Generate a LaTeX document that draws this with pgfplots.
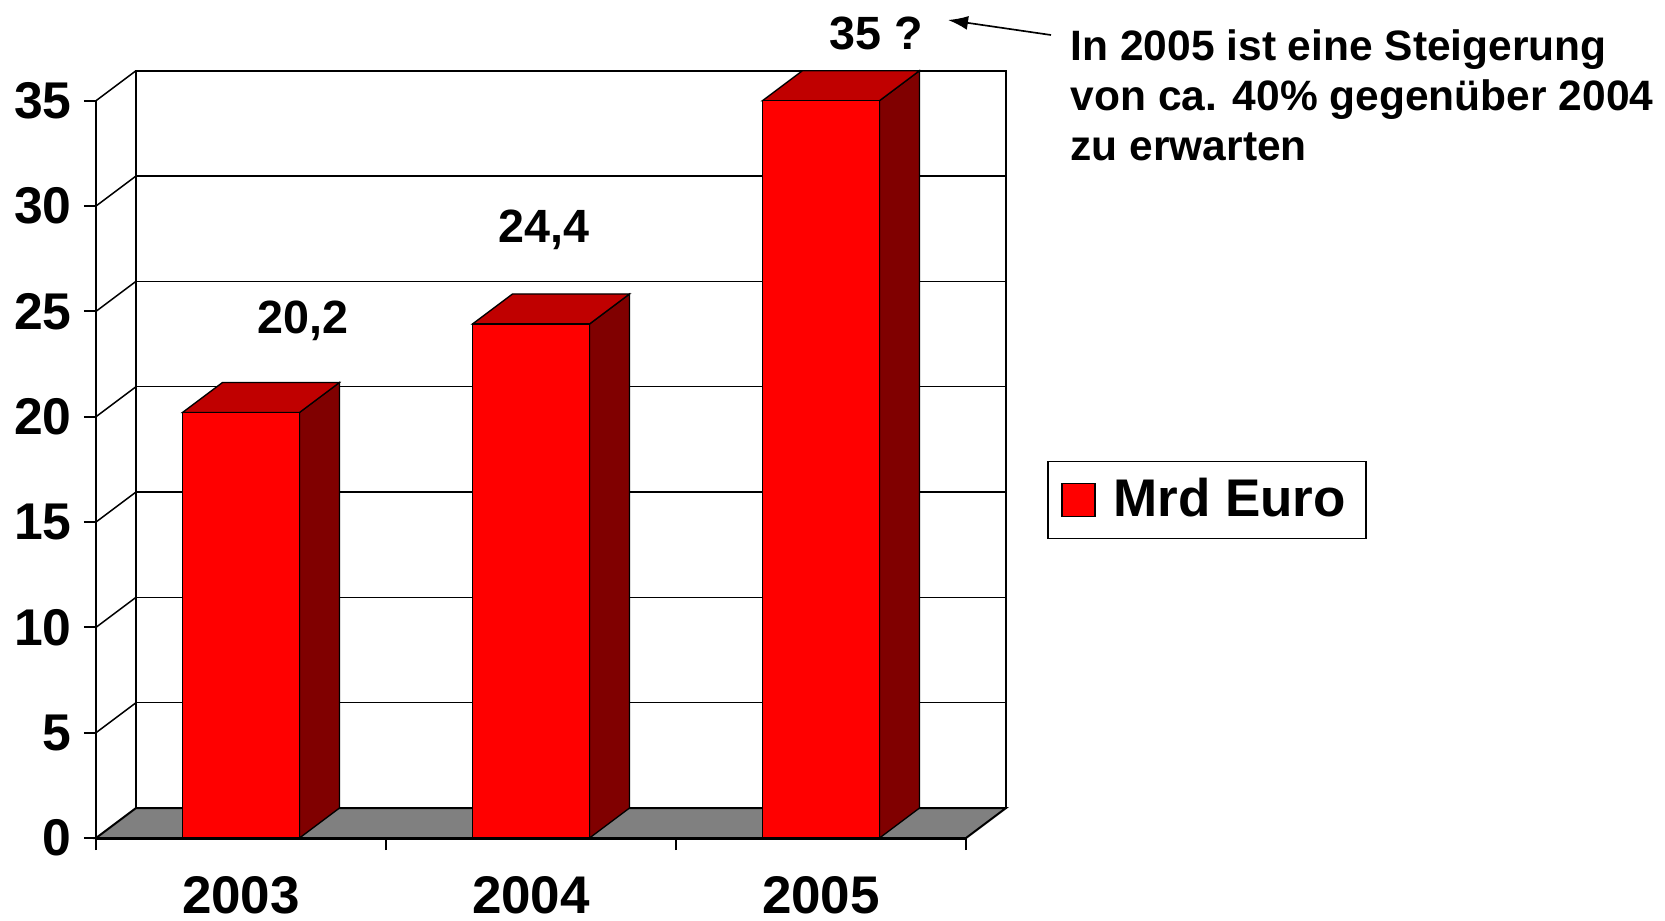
\documentclass[border=0pt]{standalone}
\usepackage{pgfplots}
\pgfplotsset{compat=1.18}
\usepackage{pgfplotstable}
\usepackage{fontspec}
\setmainfont{Liberation Sans}
\usetikzlibrary{arrows.meta}
\definecolor{barfront}{RGB}{255,0,0}
\definecolor{barside}{RGB}{128,0,0}
\definecolor{bartop}{RGB}{192,0,0}
\definecolor{floorgray}{RGB}{128,128,128}

\pgfplotstableread{
x v
0 20.2
1 24.4
2 35
}\bars

\begin{document}
\begin{tikzpicture}
\useasboundingbox (0,-276pt) rectangle (499.5pt,0pt);
\begin{axis}[
  at={(28.8pt,-251.4pt)}, anchor=south west,
  width=261pt, height=221.2pt, scale only axis,
  xmin=-0.5, xmax=2.5, ymin=0, ymax=35,
  clip=false,
  axis x line*=bottom, axis y line*=left,
  axis line style={line width=0.8pt, -},
  xtick={-0.5,0.5,1.5,2.5}, xticklabels={},
  extra x ticks={0,1,2}, extra x tick labels={2003,2004,2005},
  extra x tick style={major tick length=0pt},
  ytick={0,5,...,35},
  tick align=outside, major tick length=3.6pt,
  tick style={black, line width=0.6pt},
  /pgf/number format/assume math mode=true,
  yticklabel style={font=\fontsize{15.5}{18}\selectfont\bfseries, inner sep=3.5pt},
  xticklabel style={font=\fontsize{15.9}{18}\selectfont\bfseries, yshift=-7.9pt},
  legend style={at={(1.277,0.4584)}, anchor=center, draw=black, line width=0.5pt,
    font=\fontsize{15.9}{18}\selectfont\bfseries, inner xsep=4pt, inner ysep=3pt,
    column sep=3.3pt},
  legend image code/.code={\draw[fill=barfront,draw=black,line width=0.4pt] (0pt,-4.95pt) rectangle (9.9pt,4.95pt);},
]
% back wall
\filldraw[fill=white, draw=black, line width=0.6pt] ([shift={(12pt,9pt)}]axis cs:-0.5,0) rectangle ([shift={(12pt,9pt)}]axis cs:2.5,35);
\pgfplotsinvokeforeach{5,10,15,20,25,30}{
  \draw[black, line width=0.45pt] ([shift={(12pt,9pt)}]axis cs:-0.5,#1) -- ([shift={(12pt,9pt)}]axis cs:2.5,#1);
}
% left wall
\pgfplotsinvokeforeach{5,10,15,20,25,30,35}{
  \draw[black, line width=0.45pt] (axis cs:-0.5,#1) -- ([shift={(12pt,9pt)}]axis cs:-0.5,#1);
}
% floor
\filldraw[fill=floorgray, draw=black, line width=0.6pt] (axis cs:-0.5,0) -- (axis cs:2.5,0) -- ([shift={(12pt,9pt)}]axis cs:2.5,0) -- ([shift={(12pt,9pt)}]axis cs:-0.5,0) -- cycle;
% side and top faces of the bars
\pgfplotsinvokeforeach{0,1,2}{
  \pgfplotstablegetelem{#1}{v}\of\bars
  \pgfmathsetmacro\xl{#1-0.2017}
  \pgfmathsetmacro\xr{#1+0.2017}
  \edef\cmd{%
    \noexpand\filldraw[fill=barside,draw=black,line width=0.4pt] (axis cs:\xr,0) -- (axis cs:\xr,\pgfplotsretval) -- ([shift={(12pt,9pt)}]axis cs:\xr,\pgfplotsretval) -- ([shift={(12pt,9pt)}]axis cs:\xr,0) -- cycle;
    \noexpand\filldraw[fill=bartop,draw=black,line width=0.4pt] (axis cs:\xl,\pgfplotsretval) -- (axis cs:\xr,\pgfplotsretval) -- ([shift={(12pt,9pt)}]axis cs:\xr,\pgfplotsretval) -- ([shift={(12pt,9pt)}]axis cs:\xl,\pgfplotsretval) -- cycle;
  }\cmd
}
\addplot[ybar, bar width=0.4034, fill=barfront, draw=black, line width=0.4pt] table[x=x,y=v]{\bars};
\addlegendentry{Mrd Euro}
\draw[black, line width=0.9pt] (axis cs:-0.5,0) -- (axis cs:2.5,0);
% value labels
\node[font=\fontsize{14}{16}\selectfont\bfseries] at (axis cs:0.214,24.57) {20,2};
\node[font=\fontsize{14}{16}\selectfont\bfseries] at (axis cs:1.045,28.85) {24,4};
\node[font=\fontsize{14}{16}\selectfont\bfseries] at (axis cs:2.19,38.2) {35 ?};
\end{axis}
\node[anchor=north west, inner sep=0pt, align=left, font=\fontsize{12.75}{15}\selectfont\bfseries] at (321pt,-8.7pt) {In 2005 ist eine Steigerung\\von ca. 40\% gegenüber 2004\\zu erwarten};
\draw[line width=0.5pt, -{Latex[length=6pt,width=4.2pt]}] (315.3pt,-10.5pt) -- (284.4pt,-6pt);
\end{tikzpicture}
\end{document}
